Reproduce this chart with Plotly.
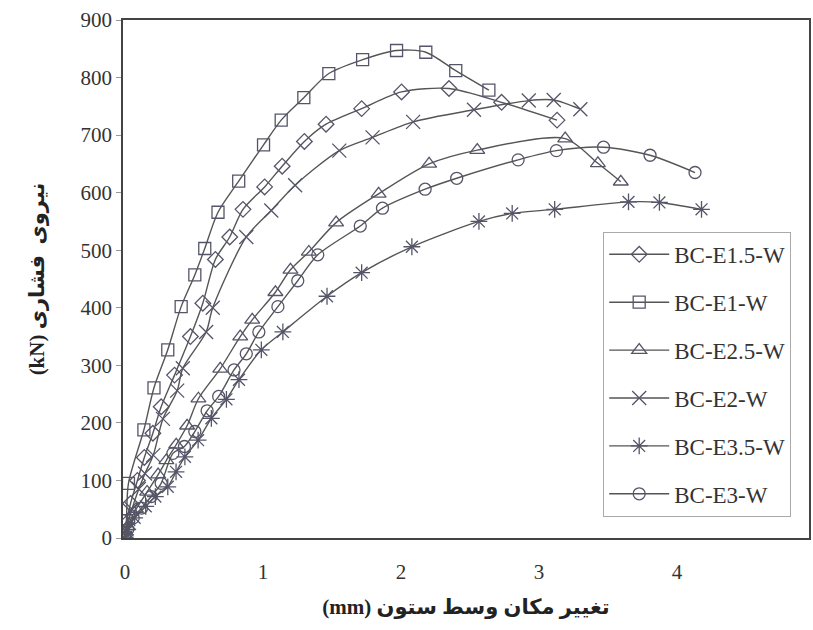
import plotly.graph_objects as go

# ---- data ----
e15_x = [0, 0.01, 0.04, 0.09, 0.14, 0.202, 0.262, 0.359, 0.474, 0.564, 0.655, 0.759, 0.855, 1.012, 1.139, 1.30, 1.457, 1.715, 2.004, 2.348, 2.729, 3.131]
e15_y = [0, 25, 60, 100, 140, 182, 228, 283, 350, 408, 484, 523, 571, 610, 646, 689, 719, 746, 775, 781, 757, 726]

e1_x = [0, 0.01, 0.025, 0.137, 0.21, 0.31, 0.407, 0.506, 0.578, 0.674, 0.824, 1.004, 1.132, 1.296, 1.477, 1.722, 1.968, 2.18, 2.397, 2.637]
e1_y = [0, 30, 95, 188, 261, 327, 402, 457, 503, 566, 620, 683, 726, 765, 807, 831, 847, 844, 812, 778]

e25_x = [0, 0.02, 0.08, 0.16, 0.24, 0.30, 0.371, 0.45, 0.532, 0.69, 0.835, 0.922, 1.09, 1.199, 1.332, 1.53, 1.838, 2.204, 2.553, 3.19, 3.427, 3.593]
e25_y = [0, 20, 50, 80, 110, 135, 162, 195, 242, 294, 350, 379, 427, 466, 497, 548, 598, 650, 674, 694, 651, 619]

e2_x = [0, 0.01, 0.05, 0.10, 0.145, 0.205, 0.275, 0.378, 0.419, 0.588, 0.636, 0.879, 1.06, 1.233, 1.553, 1.794, 2.088, 2.529, 2.926, 3.107, 3.30]
e2_y = [0, 15, 50, 85, 112, 144, 207, 256, 295, 358, 400, 523, 569, 613, 673, 696, 723, 744, 760, 761, 745]

e35_x = [0, 0.02, 0.07, 0.15, 0.22, 0.31, 0.37, 0.434, 0.53, 0.626, 0.735, 0.826, 0.988, 1.144, 1.464, 1.715, 2.079, 2.565, 2.806, 3.114, 3.649, 3.873, 4.178]
e35_y = [0, 15, 35, 55, 72, 89, 115, 141, 170, 208, 241, 275, 327, 358, 420, 461, 506, 550, 564, 571, 584, 583, 571]

e3_x = [0, 0.02, 0.06, 0.12, 0.19, 0.262, 0.347, 0.431, 0.506, 0.595, 0.679, 0.79, 0.879, 0.97, 1.108, 1.252, 1.397, 1.705, 1.866, 2.175, 2.404, 2.849, 3.126, 3.468, 3.805, 4.131]
e3_y = [0, 15, 35, 52, 72, 95, 147, 159, 185, 221, 246, 292, 320, 358, 402, 447, 492, 542, 573, 606, 625, 657, 673, 679, 665, 635]

names = ["BC-E1.5-W", "BC-E1-W", "BC-E2.5-W", "BC-E2-W", "BC-E3.5-W", "BC-E3-W"]
x_ticks = [0, 1, 2, 3, 4, 5]
y_ticks = [0, 100, 200, 300, 400, 500, 600, 700, 800, 900]

xs = [e15_x, e1_x, e25_x, e2_x, e35_x, e3_x]
ys = [e15_y, e1_y, e25_y, e2_y, e35_y, e3_y]
symbols = ["diamond-open", "square-open", "triangle-up-open", "x-thin-open", "asterisk-open", "circle-open"]
sizes = [12, 12, 13, 14, 14, 12]

line_col = "#555555"
mk_col = "#55556a"

fig = go.Figure()
for n, x, y, s, sz in zip(names, xs, ys, symbols, sizes):
    fig.add_trace(go.Scatter(
        x=x, y=y, name=n, mode="lines+markers", legendgroup=n,
        line=dict(color=line_col, width=1.4, shape="spline", smoothing=0.8),
        marker=dict(symbol=s, size=sz, color=mk_col, line=dict(color=mk_col, width=1.3)),
    ))

serif = "Liberation Serif, Times New Roman, serif"
title_font = dict(family="Liberation Serif, DejaVu Sans", size=21, color="#222")

fig.update_layout(
    width=813, height=630,
    margin=dict(l=123, r=2, t=20, b=92),
    paper_bgcolor="white", plot_bgcolor="white",
    font=dict(family=serif, size=21, color="#333"),
    showlegend=True,
    legend=dict(
        x=0.70, y=0.591, xanchor="left", yanchor="top",
        bgcolor="white", bordercolor="#aaaaaa", borderwidth=1,
        font=dict(family=serif, size=23, color="#333"),
        traceorder="grouped", tracegroupgap=15,
        itemwidth=60,
    ),
    xaxis=dict(
        range=[-0.0145, 4.957], tickvals=x_ticks, ticks="",
        ticklabelstandoff=14,
        showgrid=False, zeroline=False, showline=True, mirror=True,
        linecolor="#444", linewidth=2,
        tickfont=dict(family=serif, size=21, color="#333"),
        title=dict(text="<b>(mm) تغییر مکان وسط ستون</b>", font=title_font, standoff=16),
    ),
    yaxis=dict(
        range=[0, 900], tickvals=y_ticks, ticks="outside", ticklen=5,
        tickcolor="#999", showgrid=False, zeroline=False, showline=True, mirror=True,
        linecolor="#444", linewidth=1.5,
        tickfont=dict(family=serif, size=21, color="#333"),
        title=dict(text="<b>(kN) نیروی  فشاری</b>", font=title_font, standoff=30),
    ),
)

fig.write_html("out.html")
